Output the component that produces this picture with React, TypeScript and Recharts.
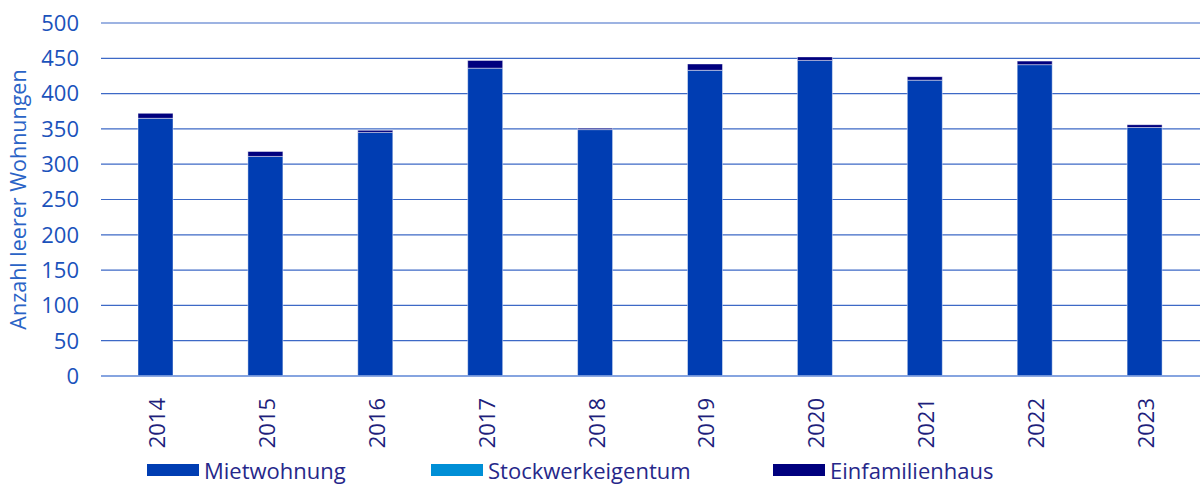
import { Bar, BarChart, CartesianGrid, XAxis, YAxis } from 'recharts';

const years = ['2014', '2015', '2016', '2017', '2018', '2019', '2020', '2021', '2022', '2023'];
const mietwohnung = [365, 311, 345, 436, 349, 433, 447, 419, 441, 352];
const stockwerkeigentum = [0, 0, 0, 0, 0, 0, 0, 0, 0, 0];
const einfamilienhaus = [7, 7, 3, 11, 2, 9, 5, 5, 5, 4];
const yTicks = [0, 50, 100, 150, 200, 250, 300, 350, 400, 450, 500];

const series = [
  { key: 'miet', name: 'Mietwohnung', color: '#003db2', values: mietwohnung },
  { key: 'stwe', name: 'Stockwerkeigentum', color: '#008fd6', values: stockwerkeigentum },
  { key: 'efh', name: 'Einfamilienhaus', color: '#00007e', values: einfamilienhaus },
];

const data = years.map((year, i) => ({
  year,
  miet: mietwohnung[i],
  stwe: stockwerkeigentum[i],
  efh: einfamilienhaus[i],
}));

const FONT = '"Open Sans", "Noto Sans", sans-serif';

function YearTick({ x, y, payload }: { x?: number; y?: number; payload?: { value: string } }) {
  return (
    <text
      transform={`translate(${(x ?? 0) + 9},${(y ?? 0) + 14}) rotate(-90)`}
      textAnchor="end"
      fontSize={22}
      fontFamily={FONT}
      fill="#1e1f7c"
    >
      {payload?.value}
    </text>
  );
}

const legendWidths = [284, 342, 300];

export default function App() {
  return (
    <div style={{ position: 'absolute', left: 0, top: 0, width: 1200, height: 486, fontFamily: FONT }}>
      <BarChart
        width={1200}
        height={486}
        data={data}
        margin={{ top: 23, right: 0, bottom: 0, left: 0 }}
        barCategoryGap="34%"
      >
        <CartesianGrid vertical={false} stroke="#3d69c6" strokeWidth={1.2} />
        <XAxis
          dataKey="year"
          height={110}
          tick={<YearTick />}
          tickLine={false}
          axisLine={{ stroke: '#7f9fdf', strokeWidth: 1.5 }}
          interval={0}
        />
        <YAxis
          domain={[0, 500]}
          ticks={yTicks}
          width={101}
          axisLine={false}
          tickLine={false}
          tickMargin={16}
          tick={{ fontSize: 22, fill: '#1b52bb', fontFamily: FONT }}
          label={{
            value: 'Anzahl leerer Wohnungen',
            angle: -90,
            position: 'insideLeft',
            offset: 18,
            dy: 0,
            style: { textAnchor: 'middle', fontSize: 21.5, fill: '#2a63c6', fontFamily: FONT },
          }}
        />
        {series.map((s) => (
          <Bar
            key={s.key}
            dataKey={s.key}
            name={s.name}
            stackId="a"
            fill={s.color}
            stroke="#ffffff"
            strokeOpacity={0.45}
            strokeWidth={1}
            barSize={35}
            isAnimationActive={false}
          />
        ))}
      </BarChart>
      <div
        style={{
          position: 'absolute',
          left: 147,
          top: 456,
          display: 'flex',
          alignItems: 'center',
          height: 28,
        }}
      >
        {series.map((s, i) => (
          <div key={s.key} style={{ display: 'flex', alignItems: 'center', width: legendWidths[i] }}>
            <div style={{ width: 52, height: 12, background: s.color, marginRight: 5 }} />
            <span style={{ fontSize: 22, color: '#26278a', lineHeight: '28px' }}>{s.name}</span>
          </div>
        ))}
      </div>
    </div>
  );
}
